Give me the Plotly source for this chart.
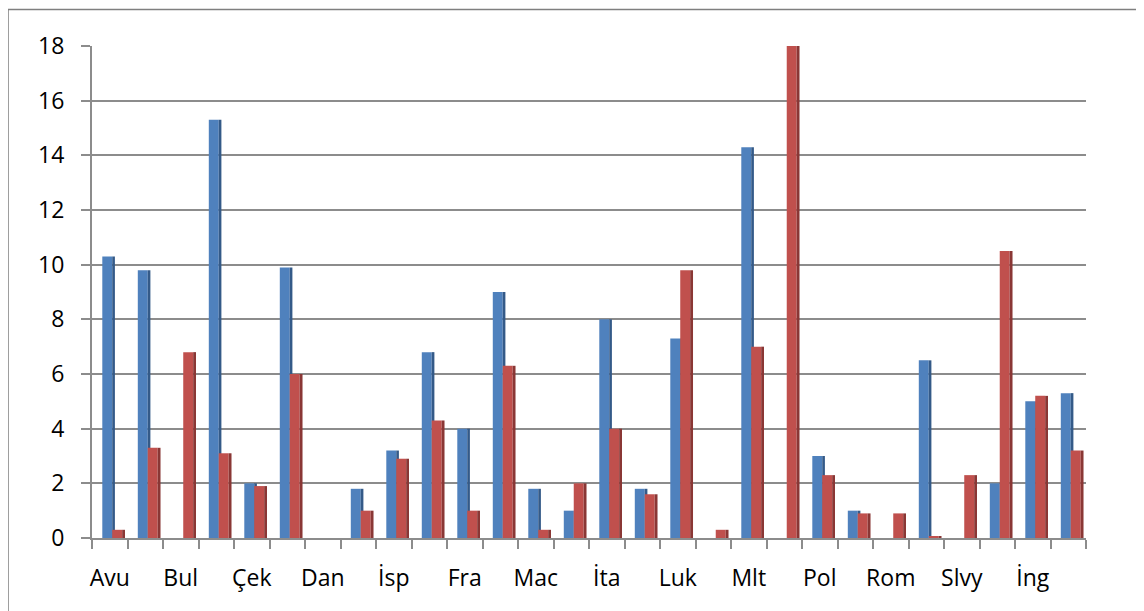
import plotly.graph_objects as go

categories = ["Avu", "Bel", "Bul", "Kıb", "Çek", "Alm", "Dan", "Est", "İsp", "Fin",
              "Fra", "Yun", "Mac", "İrl", "İta", "Lit", "Luk", "Let", "Mlt", "Hol",
              "Pol", "Por", "Rom", "İsv", "Slvy", "Slvk", "İng", "Hır"]
blue_values = [10.3, 9.8, 0.0, 15.3, 2.0, 9.9, 0.0, 1.8, 3.2, 6.8,
               4.0, 9.0, 1.8, 1.0, 8.0, 1.8, 7.3, 0.0, 14.3, 0.0,
               3.0, 1.0, 0.0, 6.5, 0.0, 2.0, 5.0, 5.3]
red_values = [0.3, 3.3, 6.8, 3.1, 1.9, 6.0, 0.0, 1.0, 2.9, 4.3,
              1.0, 6.3, 0.3, 2.0, 4.0, 1.6, 9.8, 0.3, 7.0, 18.0,
              2.3, 0.9, 0.9, 0.05, 2.3, 10.5, 5.2, 3.2]
y_ticks = [0, 2, 4, 6, 8, 10, 12, 14, 16, 18]

idx = list(range(len(categories)))
shown_idx = idx[::2]
shown_labels = categories[::2]

BLUE = "#4F81BD"
BLUE_SIDE = "#345A88"
RED = "#C0504D"
RED_SIDE = "#8A3735"
GRAY = "#8C8C8C"
FONT = "Open Sans"

fig = go.Figure()
# blue series (front face + darker side face)
fig.add_trace(go.Bar(x=idx, y=blue_values, offset=-0.21, width=0.28,
                     marker=dict(color=BLUE, line=dict(width=0)), showlegend=False))
fig.add_trace(go.Bar(x=idx, y=blue_values, offset=0.07, width=0.075,
                     marker=dict(color=BLUE_SIDE, line=dict(width=0)), showlegend=False))
# red series
fig.add_trace(go.Bar(x=idx, y=red_values, offset=0.07, width=0.28,
                     marker=dict(color=RED, line=dict(width=0)), showlegend=False))
fig.add_trace(go.Bar(x=idx, y=red_values, offset=0.35, width=0.08,
                     marker=dict(color=RED_SIDE, line=dict(width=0)), showlegend=False))

fig.update_layout(
    width=1144, height=611,
    margin=dict(l=84, r=66, t=38, b=81),
    paper_bgcolor="white", plot_bgcolor="white",
    barmode="overlay",
    font=dict(family=FONT, size=23, color="#000000"),
    xaxis=dict(
        range=[-0.5, len(categories) - 0.5],
        tickmode="array", tickvals=shown_idx, ticktext=shown_labels,
        ticks="", showgrid=False, zeroline=False,
        showline=True, linecolor=GRAY, linewidth=2,
        ticklabelstandoff=18,
        minor=dict(ticks="outside", tick0=-0.5, dtick=1, ticklen=9,
                   tickcolor=GRAY, tickwidth=2, showgrid=False),
        tickfont=dict(family=FONT, size=23),
    ),
    yaxis=dict(
        range=[0, 18],
        tickmode="array", tickvals=y_ticks,
        ticks="outside", ticklen=9, tickcolor=GRAY, tickwidth=2,
        showgrid=True, gridcolor=GRAY, gridwidth=2,
        zeroline=False, showline=True, linecolor=GRAY, linewidth=2,
        ticklabelstandoff=12,
        tickfont=dict(family=FONT, size=23),
    ),
    shapes=[dict(type="rect", xref="paper", yref="paper",
                 x0=-0.0845, x1=1.0523, y0=-0.16, y1=1.074,
                 line=dict(color="#7F7F7F", width=1.5), fillcolor="rgba(0,0,0,0)",
                 layer="below")],
)

fig.write_html("out.html")
